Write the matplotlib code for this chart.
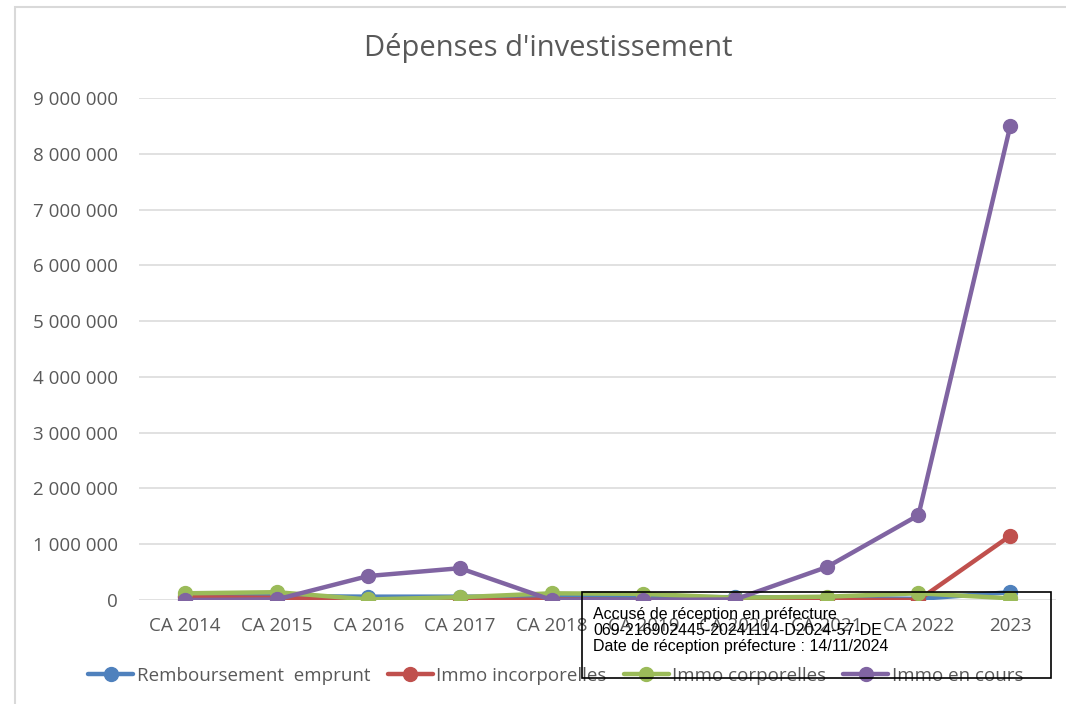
import matplotlib
matplotlib.use("Agg")
import matplotlib.pyplot as plt
from matplotlib.patches import Rectangle
from matplotlib.ticker import FuncFormatter

categories = ["CA 2014", "CA 2015", "CA 2016", "CA 2017", "CA 2018",
              "CA 2019", "CA 2020", "CA 2021", "CA 2022", "2023"]
remboursement = [80000, 70000, 60000, 60000, 60000, 60000, 50000, 40000, 20000, 140000]
immo_incorp = [50000, 40000, -10000, -10000, 10000, 0, 0, 0, 0, 1150000]
immo_corp = [120000, 140000, 10000, 50000, 120000, 110000, 40000, 60000, 120000, 30000]
immo_en_cours = [0, 10000, 430000, 570000, 0, 0, 10000, 590000, 1520000, 8490000]

series_names = ["Remboursement  emprunt", "Immo incorporelles", "Immo corporelles", "Immo en cours"]
series = [remboursement, immo_incorp, immo_corp, immo_en_cours]
colors = ["#4F81BD", "#C0504D", "#9BBB59", "#8064A2"]

font = "Open Sans"
gray = "#595959"

fig = plt.figure(figsize=(10.66, 7.04), dpi=100)
fig.patch.set_facecolor("white")

# chart area border
fig.patches.append(Rectangle((15/1066, -0.1), 1.2, (704-7)/704 + 0.1, transform=fig.transFigure,
                             fill=False, edgecolor="#D9D9D9", linewidth=1.5))

ax = fig.add_axes([139/1066, (704-600)/704, (1056-139)/1066, (600-98)/704])
x = list(range(len(categories)))
handles = []
for name, vals, c in zip(series_names, series, colors):
    h, = ax.plot(x, vals, color=c, linewidth=3.2, marker="o", markersize=10,
                 solid_capstyle="round", label=name, zorder=3)
    handles.append(h)

ax.set_xlim(-0.5, len(categories) - 0.5)
ax.set_ylim(0, 9000000)
ax.set_yticks(range(0, 9000001, 1000000))
ax.yaxis.set_major_formatter(FuncFormatter(lambda v, p: f"{int(v):,}".replace(",", " ")))
ax.set_xticks(x)
ax.set_xticklabels(categories)
ax.grid(axis="y", color="#D9D9D9", linewidth=1.1, zorder=0)
ax.set_axisbelow(True)
for s in ax.spines.values():
    s.set_visible(False)
ax.tick_params(length=0, labelsize=13.5, labelcolor=gray, pad=12)
ax.tick_params(axis="y", pad=15)
for lab in ax.get_xticklabels() + ax.get_yticklabels():
    lab.set_fontfamily(font)
for lab in ax.get_yticklabels():
    lab.set_clip_on(False)

fig.text(548/1066, 1 - 48/704, "Dépenses d'investissement", ha="center", va="center",
         fontsize=21, color=gray, fontfamily=font)

leg = fig.legend(handles=handles, loc="center", bbox_to_anchor=(556/1066, 1 - 676/704),
                 ncol=4, frameon=False, prop={"family": font, "size": 13.5},
                 handlelength=2.4, columnspacing=0.9, handletextpad=0.2, borderaxespad=0)
for t in leg.get_texts():
    t.set_color(gray)

# reception stamp
fig.patches.append(Rectangle((582/1066, 1 - 678/704), (1051-582)/1066, (678-592)/704,
                             transform=fig.transFigure, facecolor="none", edgecolor="black",
                             linewidth=1.2, zorder=10))
stamp = ["Accusé de réception en préfecture",
         "069-216902445-20241114-D2024-57-DE",
         "Date de réception préfecture : 14/11/2024"]
for i, line in enumerate(stamp):
    fig.text(593/1066, 1 - (614 + 16.5*i)/704, line, ha="left", va="center",
             fontsize=11.5, color="black", fontfamily="Liberation Sans", zorder=11)

fig.savefig("out.png", dpi=100)
